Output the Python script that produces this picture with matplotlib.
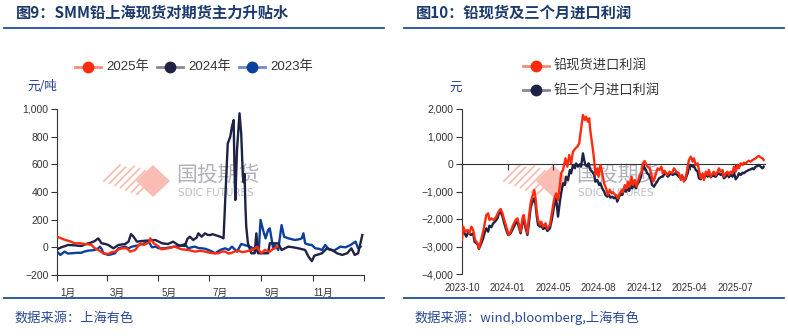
import matplotlib
matplotlib.use("Agg")
import matplotlib.pyplot as plt
from matplotlib.lines import Line2D
from matplotlib.patches import Polygon
from matplotlib.ticker import FuncFormatter
import matplotlib.transforms as mtransforms

plt.rcParams['font.family'] = ['Liberation Sans', 'Noto Sans CJK SC', 'DejaVu Sans']
plt.rcParams['axes.unicode_minus'] = True

# ---------------- data: left chart (day of year, yuan/ton) ----------------
month_ticks = [0, 59, 120, 181, 243, 304, 365]
month_labels = ["1月", "3月", "5月", "7月", "9月", "11月"]

d2025 = [0, 5, 9, 13, 17, 21, 27, 33, 37, 41, 45, 49, 55, 61, 65, 69, 73, 77, 83, 87,
         93, 99, 103, 109, 111, 115, 121, 124, 132, 140, 148, 156, 164, 170, 176, 182,
         186, 192, 196, 200, 204, 208, 212, 216, 220, 224, 228, 232, 236, 238, 240, 243,
         247, 250, 253, 256, 259, 262]
v2025 = [77, 65, 55, 48, 40, 29, 30, 24, 22, 17, -7, -19, -43, -48, -35, -31, -15, -7, -7, -31,
         -19, 29, 17, 34, 65, 29, 5, -14, -7, 5, -14, -19, -31, -25, -31, -40,
         -43, -43, -30, -31, -45, -39, -28, -24, -35, -31, -25, -19, -5, 5, -20, -43,
         -19, -25, -31, -15, -7, 5]

d2024 = [0, 5, 10, 13, 20, 29, 33, 37, 41, 45, 49, 53, 57, 61, 67, 70, 73, 81, 85, 88,
         91, 95, 100, 105, 111, 117, 121, 125, 132, 138, 144, 148, 152, 155, 158, 162, 166,
         168, 172, 176, 179, 182, 185, 188, 194, 198, 200, 203, 206, 208, 210, 211, 212,
         214, 217, 219, 221, 222, 223, 224, 225, 227, 231, 235, 237, 239, 240, 248, 251,
         253, 258, 263, 267, 275, 281, 287, 295, 299, 303, 306, 309, 315, 321, 327, 333,
         339, 345, 350, 354, 358, 363]
v2024 = [-14, 0, 10, 17, 15, 10, 20, 29, 35, 46, 65, 29, 25, 17, -7, 5, 17, 24, 41, 96,
         77, 41, 45, 48, 50, 53, 41, 29, 24, 41, 17, 12, 10, 60, 77, 53, 70,
         101, 77, 101, 90, 89, 95, 89, 77, 65, 342, 750, 800, 872, 920, 583, 342,
         704, 969, 824, 511, 470, 530, 300, 149, 29, -43, -43, 101, -43, -43, -43, -43,
         29, 29, 29, -19, 5, 0, -7, -19, -67, -100, -60, -55, -43, -7, -19, -43,
         -55, -43, -7, -55, -43, 89]

d2023 = [0, 4, 9, 13, 17, 23, 29, 33, 37, 41, 45, 49, 51, 53, 55, 61, 65, 69, 73, 77,
         81, 85, 89, 93, 97, 101, 105, 109, 113, 117, 121, 128, 134, 140, 146, 152, 156,
         160, 164, 168, 172, 176, 180, 184, 188, 194, 200, 204, 208, 214, 219, 223, 229,
         233, 236, 240, 242, 245, 248, 251, 253, 257, 259, 263, 267, 270, 275, 283, 289,
         291, 293, 295, 299, 303, 307, 311, 315, 319, 323, 329, 333, 337, 343, 349, 355,
         358, 361]
v2023 = [-31, -55, -31, -45, -43, -40, -39, -30, -24, -22, -19, -7, 5, -10, -43, -55, -50, -43, -7, 0,
         5, -7, 5, 10, 15, 24, 30, 41, 0, 5, -7, -7, 0, 5, 10, 24, -7,
         0, 5, -5, -7, -10, -19, -30, -43, -19, -7, -19, 5, -31, 24, 17, 5,
         -5, -31, -10, 198, 125, 65, 125, 137, -7, 17, -19, 161, 77, 65, 53, 60,
         65, 101, 29, 20, 17, -7, -10, -19, 17, -14, -24, -10, 5, 0, 17, 41,
         -7, 5]

# ---------------- data: right chart (trading-day index, yuan) ----------------
date_ticks = [0, 73, 146, 219, 292, 365, 438]
date_labels = ["2023-10", "2024-01", "2024-05", "2024-08", "2024-12", "2025-04", "2025-07"]

i_spot = [0, 2, 5, 9, 12, 15, 18, 21, 25, 27, 28, 32, 35, 39, 42, 44, 47, 51, 55, 59,
          62, 65, 67, 71, 75, 78, 82, 86, 89, 91, 94, 97, 99, 102, 105, 107, 110, 112,
          116, 118, 120, 122, 125, 127, 130, 134, 137, 141, 144, 148, 151, 154, 157, 159,
          162, 166, 169, 172, 175, 178, 182, 185, 188, 190, 193, 194, 197, 199, 202, 204,
          206, 209, 212, 214, 217, 219, 222, 225, 228, 231, 234, 237, 240, 242, 245, 248,
          250, 253, 256, 258, 261, 264, 266, 269, 272, 274, 277, 280, 282, 285, 288, 290,
          293, 296, 298, 301, 304, 306, 309, 312, 314, 317, 320, 322, 325, 329, 333, 337,
          340, 344, 348, 351, 353, 356, 359, 362, 364, 367, 370, 372, 375, 378, 380, 383,
          386, 388, 391, 394, 396, 399, 402, 404, 407, 410, 412, 415, 418, 420, 423, 426,
          428, 431, 434, 436, 439, 442, 444, 447, 450, 452, 455, 458, 460, 463, 466, 468,
          471, 474, 476, 479, 482, 484]
v_spot = [-2764, -2279, -2461, -2400, -2521, -2279, -2400, -2764, -2885, -3067, -3006, -2642,
          -2339, -1855, -1794, -2036, -1976, -2036, -1915, -1709, -1636, -1794, -1976, -2279,
          -2582, -2461, -2218, -2036, -1976, -2158, -2461, -1976, -1855, -2218, -2521, -1976,
          -1430, -1248, -945, -1248, -1733, -2036, -2218, -2097, -2279, -2158, -2364, -2218,
          -1794, -1248, -1067, -1309, -764, -339, -218, 206, -97, 327, 24, 448, 570, 630,
          752, 1115, 1600, 1782, 1600, 1721, 1539, 1661, 1176, 691, 145, -400, -158, -461,
          -36, -339, -703, -885, -1127, -945, -1067, -1030, -1103, -1151, -1248, -1067, -945,
          -1030, -764, -885, -642, -824, -461, -764, -582, -824, -642, -400, -279, 24, 109,
          -36, -97, -158, -400, -642, -521, -279, -158, -218, -97, -339, -242, -400, -279,
          -339, -158, -279, -339, -582, -400, -642, -461, -97, 145, 267, 85, 206, -36, 24,
          -218, -521, -339, -582, -279, -400, -218, -461, -339, -279, -400, -279, -158, -279,
          -218, -461, -339, -279, -400, -279, -339, -97, -279, -36, -158, 24, -36, 48, 24,
          85, 121, 85, 145, 170, 206, 267, 291, 242, 206, 145]

i_3m = [0, 2, 7, 10, 14, 18, 20, 25, 27, 30, 34, 36, 39, 42, 44, 47, 50, 53, 57, 59,
        62, 65, 67, 71, 74, 78, 82, 86, 89, 91, 94, 97, 99, 102, 105, 107, 110, 112, 116,
        118, 120, 122, 125, 127, 130, 134, 137, 141, 144, 148, 151, 154, 157, 159, 162,
        165, 167, 170, 173, 175, 178, 181, 183, 186, 189, 191, 194, 196, 198, 201, 203,
        206, 209, 212, 214, 217, 220, 222, 225, 228, 230, 233, 236, 238, 241, 244, 247,
        249, 252, 255, 257, 260, 263, 265, 268, 271, 273, 276, 279, 281, 284, 287, 289,
        292, 295, 297, 300, 303, 305, 308, 311, 313, 316, 320, 322, 326, 330, 335, 338,
        342, 347, 351, 354, 358, 362, 364, 367, 370, 372, 375, 378, 380, 383, 386, 388,
        391, 394, 396, 399, 402, 404, 407, 410, 412, 415, 418, 420, 423, 426, 428, 431,
        434, 436, 439, 442, 444, 447, 450, 452, 455, 458, 460, 463, 466, 468, 471, 474,
        476, 479, 482, 484]
v_3m = [-2521, -2436, -2642, -2461, -2582, -2521, -2824, -2921, -3091, -2945, -2703, -2521,
        -2339, -2461, -2242, -2300, -2158, -2097, -1976, -1794, -1758, -1915, -2097, -2400,
        -2582, -2521, -2339, -2158, -2097, -2279, -2521, -2158, -1976, -2339, -2582, -2218,
        -1612, -1430, -1248, -1491, -1915, -2218, -2279, -2218, -2364, -2300, -2436, -2339,
        -2036, -1491, -1248, -1915, -1370, -1067, -703, -764, -461, -582, -218, -339, -36,
        -158, 24, -97, -12, -97, 388, 145, -36, -97, 24, -218, -279, -400, -642, -582,
        -764, -703, -885, -1006, -1127, -1188, -1127, -1224, -1188, -1248, -1188, -1370,
        -1188, -1067, -1127, -945, -1006, -824, -982, -764, -885, -739, -885, -764, -642,
        -461, -218, -97, -218, -339, -400, -582, -764, -824, -703, -642, -521, -461, -461,
        -315, -461, -339, -400, -339, -436, -521, -461, -582, -339, -97, -36, -97, -73,
        -218, -279, -521, -558, -400, -521, -400, -461, -339, -485, -400, -436, -461, -364,
        -339, -400, -339, -521, -461, -339, -485, -400, -461, -279, -558, -461, -339, -400,
        -315, -339, -279, -242, -218, -194, -158, -194, -97, -73, -36, -97, -158, -97]

# ---------------- styling ----------------
W, H = 788, 336
RED, RED_L = "#FF2B0E", "#F58C7C"
NAVY, NAVY_L = "#1E2244", "#858899"
BLUE, BLUE_L = "#0A3F9C", "#6E8CC6"
TITLE_C = "#1C3A6E"
RULE_C = "#1F4E9A"
SRC_C = "#2A4A9A"
TXT = "#333333"


def fx(x):
    return x / W


def fy(y):
    return 1 - y / H


fig = plt.figure(figsize=(W / 100, H / 100), dpi=100)

# ---- titles, rules, sources ----
fig.text(fx(16), fy(13), "图9：SMM铅上海现货对期货主力升贴水", fontsize=11, fontweight='bold',
         color=TITLE_C, va='center', ha='left', family=['Noto Sans CJK SC'])
fig.text(fx(416), fy(13), "图10：铅现货及三个月进口利润", fontsize=11, fontweight='bold',
         color=TITLE_C, va='center', ha='left', family=['Noto Sans CJK SC'])
for x0, x1 in [(4, 384), (404, 784)]:
    fig.add_artist(Line2D([fx(x0), fx(x1)], [fy(28)] * 2, color=RULE_C, lw=1.3,
                          transform=fig.transFigure))
    fig.add_artist(Line2D([fx(x0), fx(x1)], [fy(298)] * 2, color=RULE_C, lw=1.3,
                          transform=fig.transFigure))
fig.text(fx(14), fy(318), "数据来源：上海有色", fontsize=9.5, color=SRC_C, va='center',
         ha='left', family=['Noto Sans CJK SC'], style='italic')
fig.text(fx(414), fy(318), "数据来源：wind,bloomberg,上海有色", fontsize=9.5, color=SRC_C,
         va='center', ha='left', family=['Noto Sans CJK SC', 'DejaVu Sans'], style='italic')


# ---- watermarks ----
def watermark(ox):
    pink = "#F9BDB3"
    diamond = Polygon([(fx(ox + 136), fy(181)), (fx(ox + 153), fy(165)),
                       (fx(ox + 170), fy(181)), (fx(ox + 153), fy(197))],
                      closed=True, transform=fig.transFigure, facecolor=pink,
                      edgecolor='none', zorder=-2)
    fig.add_artist(diamond)
    for k in range(7):
        xs = ox + 104 + 5.5 * k
        ys = 181 + 2.2 * k
        ln = 16 + (3 if 1 < k < 5 else 0)
        fig.add_artist(Line2D([fx(xs), fx(xs + ln)], [fy(ys), fy(ys - ln)], color=pink,
                              lw=1.3, transform=fig.transFigure, zorder=-2))
    fig.text(fx(ox + 176), fy(175), "国投期货", fontsize=15, color="#B0B1BA",
             va='center', ha='left', family=['Noto Sans CJK SC'], zorder=-2)
    fig.text(fx(ox + 178), fy(192.5), "SDIC FUTURES", fontsize=7.5, color="#BDBEC6",
             va='center', ha='left', family=['DejaVu Sans'], zorder=-2)


watermark(0)
watermark(400)

# ---- legends ----
def legend_entry(x, y, col, light, label):
    fig.add_artist(Line2D([fx(x - 13), fx(x + 13)], [fy(y)] * 2, color=light, lw=2,
                          transform=fig.transFigure))
    fig.add_artist(Line2D([fx(x)], [fy(y)], marker='o', markersize=7.5, color=col,
                          markeredgecolor=col, lw=0, transform=fig.transFigure))
    fig.text(fx(x + 18), fy(y), label, fontsize=9.5, color=TXT, va='center', ha='left',
             family=['Liberation Sans', 'Noto Sans CJK SC'])


legend_entry(88, 67, RED, RED_L, "2025年")
legend_entry(170, 67, NAVY, NAVY_L, "2024年")
legend_entry(252, 67, BLUE, BLUE_L, "2023年")
legend_entry(536, 66, RED, RED_L, "铅现货进口利润")
legend_entry(536, 90, NAVY, NAVY_L, "铅三个月进口利润")

fig.text(fx(42), fy(87), "元/吨", fontsize=9, color="#233F8C", va='center', ha='center',
         family=['Noto Sans CJK SC'])
fig.text(fx(456), fy(88), "元", fontsize=9, color="#233F8C", va='center', ha='center',
         family=['Noto Sans CJK SC'])

fmt = FuncFormatter(lambda v, p: f"{int(round(v)):,}".replace('-', '\u2212'))

# ---------------- left axes ----------------
ax1 = fig.add_axes([fx(57), fy(275), (364 - 57) / W, (275 - 109) / H])
ax1.patch.set_alpha(0)
ax1.plot(d2023, v2023, color=BLUE, lw=1.7, zorder=3)
ax1.plot(d2024, v2024, color=NAVY, lw=1.7, zorder=4)
ax1.plot(d2025, v2025, color=RED, lw=1.7, zorder=5)
ax1.set_xlim(0, 365)
ax1.set_ylim(-200, 1000)
ax1.set_yticks(range(-200, 1001, 200))
ax1.yaxis.set_major_formatter(fmt)
ax1.set_xticks(month_ticks)
ax1.set_xticklabels([])
ax1.set_xticks([m + 13 for m in month_ticks[:-1]], month_labels, minor=True)
ax1.tick_params(axis='x', which='minor', length=0, pad=9, labelsize=7, labelcolor=TXT)
ax1.tick_params(axis='x', which='major', length=4, width=0.8, color=TXT)
ax1.tick_params(axis='y', length=4, width=0.8, color=TXT, labelsize=7.5, labelcolor=TXT, pad=2)
for s in ['top', 'right']:
    ax1.spines[s].set_visible(False)
for s in ['left', 'bottom']:
    ax1.spines[s].set_color(TXT)
    ax1.spines[s].set_linewidth(0.8)

# ---------------- right axes ----------------
ax2 = fig.add_axes([fx(462), fy(274), (765 - 462) / W, (274 - 109) / H])
ax2.patch.set_alpha(0)
ax2.plot(i_3m, v_3m, color=NAVY, lw=1.7, zorder=3)
ax2.plot(i_spot, v_spot, color=RED, lw=1.7, zorder=4)
ax2.set_xlim(0, 486)
ax2.set_ylim(-4000, 2000)
ax2.set_yticks(range(-4000, 2001, 1000))
ax2.yaxis.set_major_formatter(fmt)
ax2.spines['bottom'].set_position(('data', 0))
ax2.set_xticks(date_ticks)
ax2.set_xticklabels([])
ax2.tick_params(axis='x', length=4, width=0.8, color=TXT)
ax2.tick_params(axis='y', length=4, width=0.8, color=TXT, labelsize=7.5, labelcolor=TXT, pad=2)
for s in ['top', 'right']:
    ax2.spines[s].set_visible(False)
for s in ['left', 'bottom']:
    ax2.spines[s].set_color(TXT)
    ax2.spines[s].set_linewidth(0.8)
blend = mtransforms.blended_transform_factory(ax2.transData, ax2.transAxes)
for t, lab in zip(date_ticks, date_labels):
    ax2.text(t, -(288 - 274) / (274 - 109), lab, transform=blend, ha='center', va='center',
             fontsize=7, color=TXT)

fig.savefig("out.png", dpi=100)
